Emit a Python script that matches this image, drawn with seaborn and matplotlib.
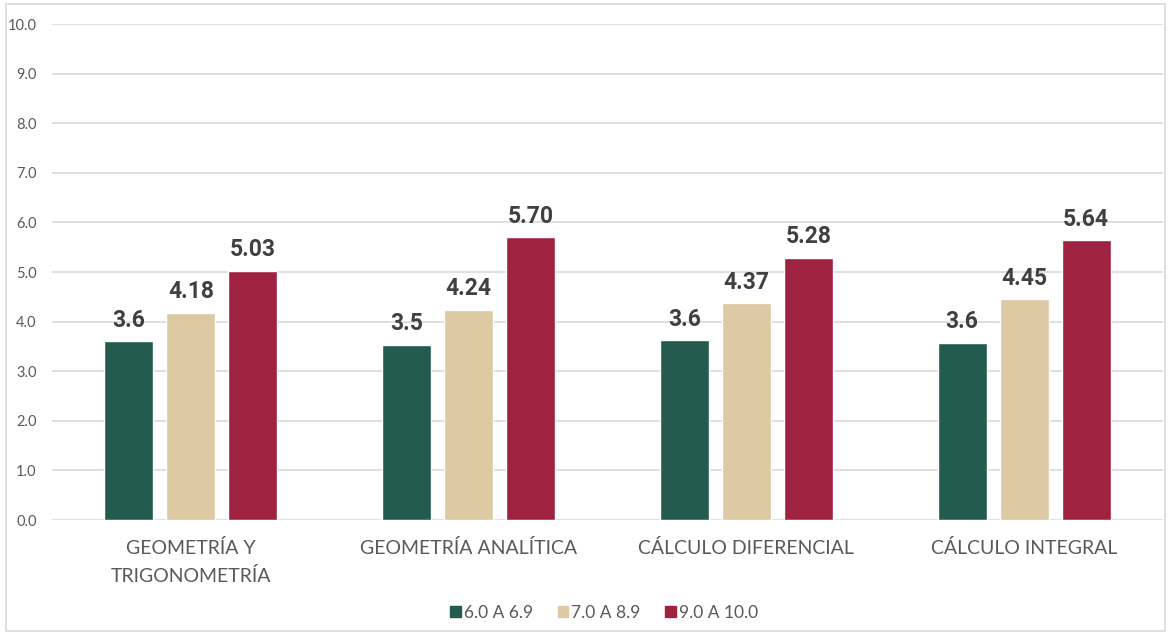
import matplotlib
matplotlib.use("Agg")
import matplotlib.pyplot as plt
from matplotlib.patches import Rectangle
import seaborn as sns
import pandas as pd

# Subjects and grade ranges
categories = ["GEOMETRÍA Y\nTRIGONOMETRÍA", "GEOMETRÍA ANALÍTICA",
              "CÁLCULO DIFERENCIAL", "CÁLCULO INTEGRAL"]
ranges = ["6.0 A 6.9", "7.0 A 8.9", "9.0 A 10.0"]

# Average values per grade range
vals_6 = [3.60, 3.53, 3.62, 3.57]
vals_7 = [4.18, 4.24, 4.37, 4.45]
vals_9 = [5.03, 5.70, 5.28, 5.64]

colors = ["#235B4E", "#DDC9A3", "#9F2241"]
label_fmts = ["{:.1f}", "{:.2f}", "{:.2f}"]

rows = []
for rng, series in zip(ranges, [vals_6, vals_7, vals_9]):
    for cat, v in zip(categories, series):
        rows.append({"materia": cat, "rango": rng, "valor": v})
df = pd.DataFrame(rows)

sns.set_theme(style="white")
plt.rcParams["font.family"] = ["Lato", "DejaVu Sans"]

fig = plt.figure(figsize=(11.71, 6.35), dpi=100)
ax = fig.add_axes([0.0444, 0.1811, 0.9488, 0.7811])

sns.barplot(data=df, x="materia", y="valor", hue="rango", order=categories,
            hue_order=ranges, palette=colors, width=0.67, gap=0.21,
            saturation=1, ax=ax, legend=False)

for cont, fmt in zip(ax.containers, label_fmts):
    ax.bar_label(cont, labels=[fmt.format(b.get_height()) for b in cont],
                 padding=7, fontsize=16.5, fontweight="bold", color="#404040",
                 family=["Roboto", "DejaVu Sans"])

ax.set_ylim(0, 10)
ax.set_xlim(-0.5, 3.5)
ax.set_yticks(range(11))
ax.set_yticklabels([f"{i:.1f}" for i in range(11)])
ax.yaxis.grid(True, color="#D9D9D9", linewidth=1.2)
ax.set_axisbelow(True)
ax.tick_params(axis="y", labelsize=10.5, labelcolor="#595959", length=0, pad=11)
ax.tick_params(axis="x", length=0, pad=14)
ax.set_xticks(range(len(categories)))
ax.set_xticklabels(categories, fontsize=14, color="#595959", linespacing=1.65)
ax.set_xlabel("")
ax.set_ylabel("")
for s in ax.spines.values():
    s.set_visible(False)

handles = [Rectangle((0, 0), 1, 1, color=c) for c in colors]
fig.legend(handles, ranges, loc="center", bbox_to_anchor=(0.516, 0.035), ncol=3,
           frameon=False, fontsize=12.5, handlelength=0.6, handleheight=0.6,
           handletextpad=0.2, columnspacing=1.4, labelcolor="#595959")

fig.patches.append(Rectangle((0.005, 0.006), 0.99, 0.987, transform=fig.transFigure,
                             fill=False, edgecolor="#D9D9D9", linewidth=1.2))

fig.savefig("out.png", dpi=100)
